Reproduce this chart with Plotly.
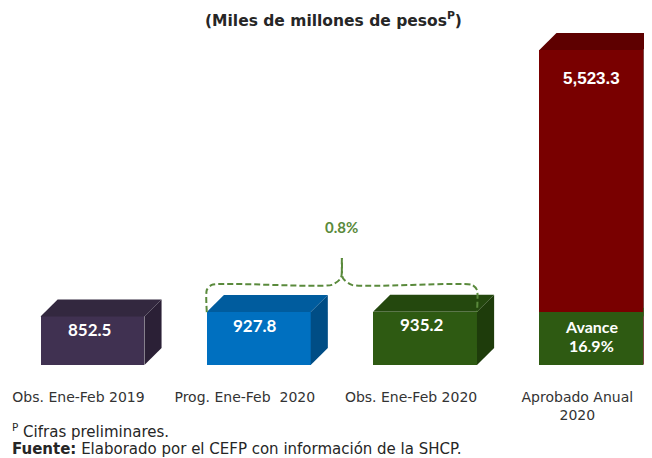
import plotly.graph_objects as go

# data
categories = ["Obs. Ene-Feb 2019", "Prog. Ene-Feb  2020", "Obs. Ene-Feb 2020", "Aprobado Anual<br>2020"]
values = [852.5, 927.8, 935.2, 5523.3]
value_labels = ["852.5", "927.8", "935.2", "5,523.3"]
avance_value = 935.2
avance_lines = ["Avance", "16.9%"]
variacion_label = "0.8%"

# colours per bar: front, top, side
front_colors = ["#403151", "#0070C0", "#2E5A12", "#790000"]
top_colors = ["#33283F", "#005C9E", "#24480E", "#5E0000"]
side_colors = ["#2B2036", "#004D85", "#1E3C0B", "#4C0000"]
avance_colors = ("#2E5A12", "#33601A")

# 3d box geometry (data units)
shift = 0.084     # front face offset from tick
bar_w = 0.625
dx = 0.103        # depth in x
dy = 298          # depth in y

# page is drawn 8px in from the window corner, so work in figure px
def px(x):
    return (x - 8) / 644


def py(y):
    return (365 - y) / 357


fig = go.Figure()

for i, v in enumerate(values):
    xl = i + shift - bar_w / 2
    xr = i + shift + bar_w / 2
    # side face
    fig.add_trace(go.Scatter(
        x=[xr, xr + dx, xr + dx, xr, xr], y=[0, dy, v + dy, v, 0],
        fill="toself", fillcolor=side_colors[i], mode="lines",
        line=dict(width=0), hoverinfo="skip", showlegend=False))
    # top face
    fig.add_trace(go.Scatter(
        x=[xl, xl + dx, xr + dx, xr, xl], y=[v, v + dy, v + dy, v, v],
        fill="toself", fillcolor=top_colors[i], mode="lines",
        line=dict(width=0), hoverinfo="skip", showlegend=False))

# green band of the "avance" peeking on the side of the annual bar
xr4 = 3 + shift + bar_w / 2
fig.add_trace(go.Scatter(
    x=[xr4, xr4 + dx, xr4 + dx, xr4, xr4],
    y=[avance_value + 60, avance_value + dy + 60, avance_value + dy - 90,
       avance_value - 90, avance_value + 60],
    fill="toself", fillcolor=avance_colors[1], mode="lines",
    line=dict(width=0), hoverinfo="skip", showlegend=False))

# front faces
fig.add_trace(go.Bar(
    x=[i + shift for i in range(len(values))], y=values, width=bar_w,
    marker=dict(color=front_colors, line=dict(width=0)), hoverinfo="skip", showlegend=False))
fig.add_trace(go.Bar(
    x=[3 + shift], y=[avance_value], width=bar_w,
    marker=dict(color=avance_colors[0], line=dict(width=0)), hoverinfo="skip", showlegend=False))

# value labels
for i, v in enumerate(values):
    if i < 3:
        fig.add_annotation(x=i + shift - 0.02, y=v - 230, text="<b>" + value_labels[i] + "</b>",
                           showarrow=False, yanchor="middle",
                           font=dict(family="Lato", size=17, color="white"))
    else:
        fig.add_annotation(x=i + shift, y=v - 500, text="<b>" + value_labels[i] + "</b>",
                           showarrow=False, yanchor="middle",
                           font=dict(family="Liberation Sans", size=17, color="white"))
for k, line in enumerate(avance_lines):
    fig.add_annotation(x=3 + shift, y=avance_value - 263 - 333 * k, text="<b>" + line + "</b>",
                       showarrow=False, yanchor="middle",
                       font=dict(family="Lato", size=16, color="white"))

# dashed bracket between bar 2 and bar 3
bx_l = 1 + shift - bar_w / 2
bx_r = 2 + shift + bar_w / 2
bx_m = (bx_l + bx_r) / 2
h = max(values[1], values[2]) + 470
peak = h + 470
rx = 0.03
ry = 90
green = "#5A8A3C"
fig.add_trace(go.Scatter(
    x=[bx_l, bx_l, bx_l + rx, bx_m - 2 * rx, bx_m - 0.006, bx_m],
    y=[values[1], h - ry, h, h, h + 120, peak],
    mode="lines", line=dict(color=green, width=2, dash="6px,3px", shape="spline", smoothing=0.6),
    hoverinfo="skip", showlegend=False))
fig.add_trace(go.Scatter(
    x=[bx_m, bx_m + 0.006, bx_m + 2 * rx, bx_r - rx, bx_r, bx_r],
    y=[peak, h + 120, h, h, h - ry, values[2]],
    mode="lines", line=dict(color=green, width=2, dash="6px,3px", shape="spline", smoothing=0.6),
    hoverinfo="skip", showlegend=False))
fig.add_annotation(x=bx_m, y=peak + 550, text="<b>" + variacion_label + "</b>",
                   showarrow=False, yanchor="middle",
                   font=dict(family="Lato", size=15, color=green))

# title and footnotes
fig.add_annotation(x=px(333), y=py(20), xref="paper", yref="paper",
                   xanchor="center", yanchor="middle",
                   text="<b>(Miles de millones de pesos<sup>P</sup>)</b>", showarrow=False,
                   font=dict(family="DejaVu Sans", size=15.5, color="#262626"))
fig.add_annotation(x=px(10), y=py(431), xref="paper", yref="paper",
                   xanchor="left", yanchor="middle",
                   text="<sup>P</sup> Cifras preliminares.", showarrow=False,
                   font=dict(family="DejaVu Sans", size=15, color="#262626"))
fig.add_annotation(x=px(10), y=py(449), xref="paper", yref="paper",
                   xanchor="left", yanchor="middle",
                   text="<b>Fuente:</b> Elaborado por el CEFP con información de la SHCP.",
                   showarrow=False, font=dict(family="DejaVu Sans", size=15, color="#262626"))

fig.update_layout(
    width=644, height=450,
    margin=dict(l=0, r=0, t=0, b=93),
    paper_bgcolor="white", plot_bgcolor="white",
    barmode="overlay", bargap=0,
    xaxis=dict(range=[-0.424, 3.449], tickvals=list(range(len(categories))),
               ticktext=categories, showgrid=False, zeroline=False, showline=False,
               ticks="", ticklabelstandoff=22,
               tickfont=dict(family="DejaVu Sans", size=14, color="#333333")),
    yaxis=dict(range=[0, 6260], visible=False),
)

fig.write_html("out.html")
